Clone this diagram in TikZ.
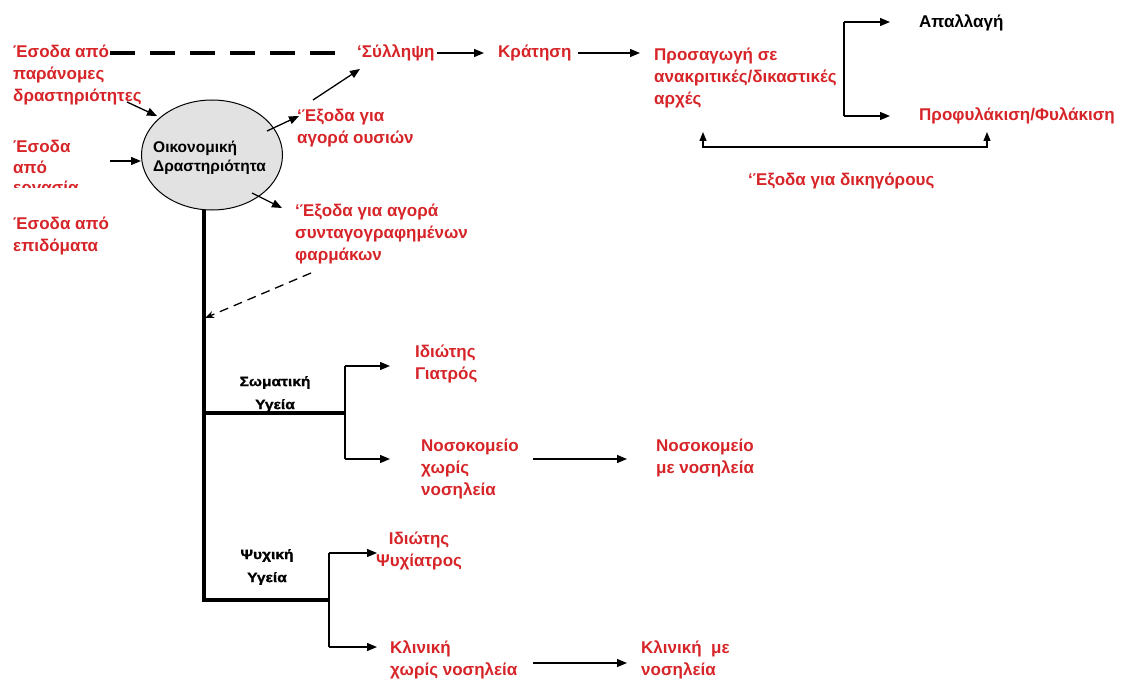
\documentclass[tikz,border=0pt]{standalone}
\usepackage{fontspec}
\setmainfont{Liberation Sans}
\newfontfamily\widefont[FakeStretch=1.15, BoldFeatures={FakeBold=1.3}]{Liberation Sans}
\usetikzlibrary{arrows.meta,shapes.geometric}
\definecolor{txtred}{RGB}{214,36,40}
\definecolor{ellfill}{RGB}{226,226,226}
\begin{document}
\begin{tikzpicture}[x=1pt,y=-1pt,
  rtxt/.style={text=txtred, font=\bfseries\fontsize{17}{22}\selectfont, inner sep=0pt, align=left, anchor=west},
  ktxt/.style={text=black, font=\bfseries\fontsize{17}{22}\selectfont, inner sep=0pt, align=left, anchor=west},
  stxt/.style={text=black, font=\widefont\bfseries\fontsize{13.5}{23}\selectfont, inner sep=0pt, align=center},
  arr/.style={-{Triangle[length=10pt,width=8pt]}, line width=1.3pt},
  thinln/.style={line width=1.3pt},
  trunk/.style={line width=4.2pt},
  bigdash/.style={line width=4pt, dash pattern=on 25pt off 15pt},
  dasharr/.style={-{Stealth[length=9pt,width=7pt]}, line width=1.3pt, dash pattern=on 9pt off 6pt},
  bothup/.style={{Triangle[length=9pt,width=7pt]}-{Triangle[length=9pt,width=7pt]}, line width=1.3pt}
]
\useasboundingbox (0,0) rectangle (1122,682);

% ---- left incomes ----
\node[rtxt] (illeg) at (13,75) {Έσοδα από\\παράνομες\\δραστηριότητες};
\begin{scope}
  \clip (0,130) rectangle (135,187);
  \node[rtxt, font=\bfseries\fontsize{17}{20.5}\selectfont] (work) at (13,169) {Έσοδα\\από\\εργασία};
\end{scope}
\node[rtxt] (benef) at (13,236) {Έσοδα από\\επιδόματα};

% ---- ellipse ----
\node[draw, ellipse, fill=ellfill, line width=1pt, minimum width=141pt, minimum height=110pt, inner sep=0pt] (econ) at (212,155) {};
\begin{scope}
  \clip (140,130) rectangle (290,173.5);
  \node[text=black, inner sep=0pt, align=left, anchor=west, font=\bfseries\fontsize{15.5}{19}\selectfont] (econtxt) at (153,158) {Οικονομική\\Δραστηριότητα};
\end{scope}

% ---- top chain ----
\coordinate (d0) at (110,53);
\node[rtxt] (arrest) at (357,53) {‘Σύλληψη};
\node[rtxt] (detent) at (498,53) {Κράτηση};
\node[rtxt] (court) at (654,78) {Προσαγωγή σε\\ανακριτικές/δικαστικές\\αρχές};
\node[ktxt] (acquit) at (919,23) {Απαλλαγή};
\node[rtxt] (custody) at (919,116) {Προφυλάκιση/Φυλάκιση};
\node[rtxt] (lawyers) at (748,181) {‘Έξοδα για δικηγόρους};

\draw[bigdash, shorten >=12pt] (d0) -- (arrest.west);
\draw[arr, shorten <=2pt, shorten >=14pt] (arrest.east) -- (detent.west);
\draw[arr, shorten <=6pt, shorten >=14pt] (detent.east) -- (detent.east -| court.west);

\coordinate (bt) at (844,22);
\coordinate (bb) at (844,116);
\draw[thinln] (bt) -- (bb);
\draw[arr, shorten >=29pt] (bt) -- (bt -| acquit.west);
\draw[arr, shorten >=29pt] (bb) -- (bb -| custody.west);

\coordinate (la) at (703,132);
\coordinate (lb) at (987,132);
\draw[bothup] (la) -- ++(0,15) -| (lb);

% ---- expenses ----
\node[rtxt] (subst) at (297,128) {‘Έξοδα για\\αγορά ουσιών};
\node[rtxt] (drugs) at (295,234) {‘Έξοδα για αγορά\\συνταγογραφημένων\\φαρμάκων};

\coordinate (i1) at (127,102);
\coordinate (i2) at (157,116);
\draw[arr] (i1) -- (i2);
\coordinate (w1) at (110,161);
\draw[arr] (w1) -- (w1 -| econ.west);
\coordinate (e1) at (267,131);
\coordinate (e2) at (299,116);
\draw[arr] (e1) -- (e2);
\coordinate (s1a) at (313,100);
\coordinate (s1b) at (360,69);
\draw[arr] (s1a) -- (s1b);
\coordinate (e3) at (252,193);
\coordinate (e4) at (282,208);
\draw[arr] (e3) -- (e4);
\coordinate (f1) at (311,273);
\coordinate (f2) at (205,318);
\draw[dasharr] (f1) -- (f2);

% ---- trunk ----
\coordinate (t0) at (204,210);
\coordinate (t1) at (204,413);
\coordinate (t2) at (204,600);
\coordinate (t3) at (345,413);
\coordinate (t4) at (329,600);
\draw[trunk] (t0) -- (t2) -- (t4);
\draw[trunk] (t1) -- (t3);

% ---- physical health ----
\node[stxt] (soma) at (275,394) {Σωματική\\Υγεία};
\node[rtxt] (priv) at (415,364) {Ιδιώτης\\Γιατρός};
\node[rtxt] (hosp) at (421,469) {Νοσοκομείο\\χωρίς\\νοσηλεία};
\node[rtxt] (hospin) at (656,458) {Νοσοκομείο\\με νοσηλεία};
\coordinate (b1) at (345,366);
\coordinate (b2) at (345,459);
\draw[thinln] (b1) -- (b2);
\draw[arr, shorten >=25pt] (b1) -- (b1 -| priv.west);
\draw[arr, shorten >=31pt] (b2) -- (b2 -| hosp.west);
\coordinate (h1) at (533,459);
\draw[arr, shorten >=29pt] (h1) -- (h1 -| hospin.west);

% ---- mental health ----
\node[stxt] (psy) at (267,567) {Ψυχική\\Υγεία};
\node[rtxt, align=center, anchor=center] (psych) at (419,551) {Ιδιώτης\\Ψυχίατρος};
\node[rtxt] (clin) at (390,660) {Κλινική\\χωρίς νοσηλεία};
\node[rtxt] (clinin) at (641,660) {Κλινική\ \ με\\νοσηλεία};
\coordinate (c1) at (329,553);
\coordinate (c2) at (329,647);
\coordinate (c1e) at (377,553);
\draw[thinln] (c1) -- (c2);
\draw[arr] (c1) -- (c1e);
\draw[arr, shorten >=13pt] (c2) -- (c2 -| clin.west);
\coordinate (k1) at (533,663);
\draw[arr, shorten >=14pt] (k1) -- (k1 -| clinin.west);
\end{tikzpicture}
\end{document}
